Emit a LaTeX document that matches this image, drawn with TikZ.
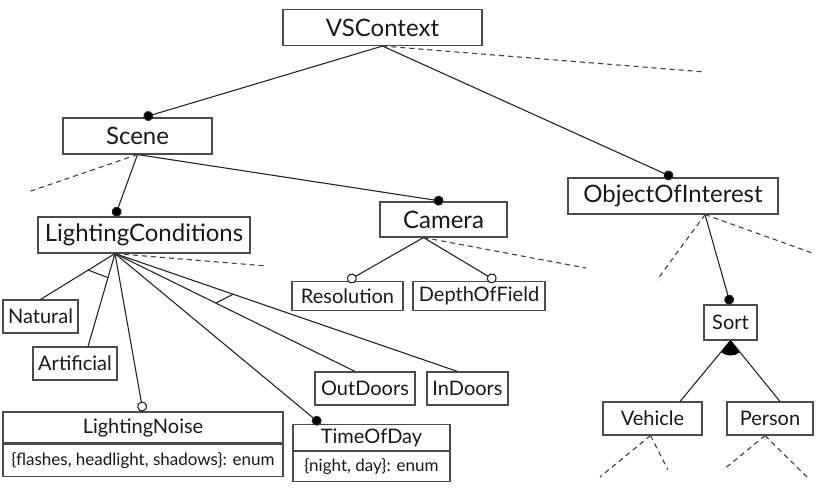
\documentclass[tikz,border=0pt]{standalone}
\usepackage{fontspec}
\setmainfont{Lato}
\usetikzlibrary{arrows.meta,positioning,calc}

\begin{document}
\begin{tikzpicture}[x=1pt,y=-1pt,line width=1.1pt,
    feat/.style={draw=black!70, rectangle, minimum height=36pt, inner sep=2pt, text=black!90, font=\fontsize{24}{27}\selectfont},
    sub/.style={draw=black!70, rectangle, minimum height=33pt, inner sep=2pt, text=black!90, font=\fontsize{20}{23}\selectfont},
    attr/.style={draw=black!70, rectangle, inner sep=2pt, text=black!90, font=\fontsize{17}{20}\selectfont},
    mandatory/.style={-{Circle[length=10pt]}},
    optional/.style={-{Circle[open,length=10pt,fill=white]}},
    loose/.style={draw=black!75, dash pattern=on 5pt off 4pt}]

    \useasboundingbox (0,0) rectangle (832,492);

    \node[feat, minimum width=199pt] (VSContext) at (382.5,27.5)
    {VSContext};

    \node[feat, minimum width=149pt] (Scene) at (137.5,136)
    {Scene};

    \node[feat, minimum width=212pt] (LightingConditions) at (144,235)
    {LightingConditions};

    \node[feat, minimum width=127pt, minimum height=35pt] (Camera) at (443.5,219.5)
    {Camera};

    \node[feat, minimum width=210pt] (ObjectOfInterest) at (673,196)
    {ObjectOfInterest};

    %------------------------------------------------

    \node[sub, minimum width=75pt] (Natural) at (40.5,316.5)
    {Natural};

    \node[sub, minimum width=84pt] (Artificial) at (75,363.5)
    {Artificial};

    \node[sub, minimum width=280pt, minimum height=31pt] (LightingNoise) at (143,427.5)
    {LightingNoise};

    \node[attr, minimum width=280pt, minimum height=32pt, below=0pt of LightingNoise] (LightingNoiseType)
    {\{flashes, headlight, shadows\}: enum};

    \node[sub, minimum width=157pt, minimum height=26pt] (TimeOfDay) at (371.5,437.5)
    {TimeOfDay};

    \node[attr, minimum width=157pt, minimum height=30pt, below=0pt of TimeOfDay] (TimeOfDayType)
    {\{night, day\}: enum};

    \node[sub, minimum width=100pt] (OutDoors) at (365,388.5)
    {OutDoors};

    \node[sub, minimum width=81pt] (InDoors) at (467.5,388.5)
    {InDoors};

    %------------------------------------------------

    \node[sub, minimum width=111pt, minimum height=29pt] (Resolution) at (347.5,296)
    {Resolution};

    \node[sub, minimum width=132pt, minimum height=29pt] (DepthOfField) at (479,296)
    {DepthOfField};

    %------------------------------------------------

    \node[sub, minimum width=53pt, minimum height=35pt] (Sort) at (730.5,322.5)
    {Sort};

    \node[sub, minimum width=99pt] (Vehicle) at (652.5,418.5)
    {Vehicle};

    \node[sub, minimum width=86pt] (Person) at (770,418.5)
    {Person};

    %------------------------------------------------

    \coordinate (LCbot) at ([xshift=-29pt]LightingConditions.south);
    \coordinate (CAMbot) at ([xshift=-20pt]Camera.south);
    \coordinate (OOIbot) at ([xshift=32pt]ObjectOfInterest.south);

    \coordinate (vsOpen) at (705,72);
    \coordinate (sceneOpen) at (28,192);
    \coordinate (lcOpen) at (267,266);
    \coordinate (camOpen) at (586,268);
    \coordinate (ooiOpenL) at (657,280);
    \coordinate (ooiOpenR) at (815,254);
    \coordinate (vehOpenL) at (600,477);
    \coordinate (vehOpenR) at (668,470);
    \coordinate (perOpenL) at (723,470);
    \coordinate (perOpenR) at (807,477);

    \path[draw=black!85]
    {
        (VSContext.south) edge[mandatory] ([xshift=6pt]Scene.north)
        (VSContext.south) edge[mandatory] (ObjectOfInterest.north)
        (VSContext.south) edge[loose] (vsOpen)

        (Scene.south) edge[mandatory] ([xshift=-29pt]LightingConditions.north)
        (Scene.south) edge[mandatory] (Camera.north)
        (Scene.south) edge[loose] (sceneOpen)

        (LCbot) edge (Natural.north)
        (LCbot) edge ([xshift=13pt]Artificial.north)
        (LCbot) edge[optional] (LightingNoise.north)
        (LCbot) edge[mandatory] ([xshift=-51pt]TimeOfDay.north)
        (LCbot) edge ([xshift=-10pt]OutDoors.north)
        (LCbot) edge ([xshift=-10pt]InDoors.north)
        (LCbot) edge[loose] (lcOpen)

        (CAMbot) edge[optional] (Resolution.north)
        (CAMbot) edge[optional] ([xshift=17pt]DepthOfField.north)
        (CAMbot) edge[loose] (camOpen)

        (OOIbot) edge[mandatory] (Sort.north)
        (OOIbot) edge[loose] (ooiOpenL)
        (OOIbot) edge[loose] (ooiOpenR)

        (Sort.south) edge ([xshift=27.5pt]Vehicle.north)
        (Sort.south) edge ([xshift=10pt]Person.north)

        ([xshift=-2pt]Vehicle.south) edge[loose] (vehOpenL)
        ([xshift=-2pt]Vehicle.south) edge[loose] (vehOpenR)
        ([xshift=-5pt]Person.south) edge[loose] (perOpenL)
        ([xshift=-5pt]Person.south) edge[loose] (perOpenR)
    };

    % group marks
    \draw[black!85] ($(LCbot)!0.36!(Natural.north)$) -- ($(LCbot)!0.26!([xshift=13pt]Artificial.north)$);
    \draw[black!85] ($(LCbot)!0.42!([xshift=-10pt]OutDoors.north)$) -- ($(LCbot)!0.345!([xshift=-10pt]InDoors.north)$);
    \fill[black] (Sort.south) -- ++(230.8:15pt) arc[start angle=230.8, end angle=308.6, radius=15pt] -- cycle;
\end{tikzpicture}
\end{document}
